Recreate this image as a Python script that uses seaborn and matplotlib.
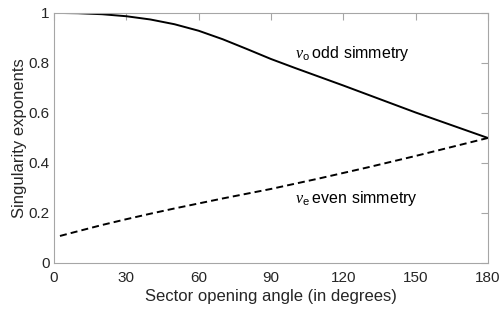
import matplotlib
matplotlib.use('Agg')
import matplotlib.pyplot as plt
import seaborn as sns

# sector opening angle (degrees) and singularity exponents
angle = [2.5, 10, 20, 30, 40, 50, 60, 70, 80, 90, 100, 110, 120, 130, 140, 150, 160, 170, 180]
nu_odd = [1.0, 0.999, 0.995, 0.987, 0.974, 0.955, 0.929, 0.895, 0.856, 0.816, 0.780, 0.745,
          0.710, 0.674, 0.638, 0.602, 0.568, 0.534, 0.5]
nu_even = [0.108, 0.127, 0.152, 0.175, 0.197, 0.218, 0.238, 0.258, 0.277, 0.296, 0.317, 0.338,
           0.360, 0.382, 0.405, 0.428, 0.452, 0.476, 0.5]

xticks = [0, 30, 60, 90, 120, 150, 180]
yticks = [0, 0.2, 0.4, 0.6, 0.8, 1]
ytick_labels = ['0', '0.2', '0.4', '0.6', '0.8', '1']

sns.set_style('white')
plt.rcParams['font.family'] = ['Liberation Sans', 'DejaVu Sans']
plt.rcParams['mathtext.fontset'] = 'custom'
plt.rcParams['mathtext.rm'] = 'Liberation Sans'
plt.rcParams['mathtext.it'] = 'Liberation Serif:italic'

text_col = '#262626'
edge_col = '#a6a6a6'

fig, ax = plt.subplots(figsize=(5.04, 3.09), dpi=100)
fig.subplots_adjust(left=0.107, right=0.968, bottom=0.149, top=0.958)

sns.lineplot(x=angle, y=nu_odd, ax=ax, color='black', linewidth=1.4)
sns.lineplot(x=angle, y=nu_even, ax=ax, color='black', linewidth=1.4,
             linestyle=(0, (3.6, 2.1)))

ax.text(100, 0.82, r'$\nu_{\mathrm{o}}\;$odd simmetry', fontsize=11.5, color='black',
        ha='left', va='baseline')
ax.text(100, 0.238, r'$\nu_{\mathrm{e}}\;$even simmetry', fontsize=11.5, color='black',
        ha='left', va='baseline')

ax.set_xlim(0, 180)
ax.set_ylim(0, 1)
ax.set_xticks(xticks)
ax.set_xticklabels([str(t) for t in xticks])
ax.set_yticks(yticks)
ax.set_yticklabels(ytick_labels)

ax.set_xlabel('Sector opening angle (in degrees)', fontsize=12, color=text_col, labelpad=3)
ax.set_ylabel('Singularity exponents', fontsize=12, color=text_col, labelpad=1)

ax.tick_params(direction='in', top=True, right=True, length=5, width=0.8,
               color=edge_col, labelcolor=text_col, labelsize=11)
ax.tick_params(axis='x', pad=6)
ax.tick_params(axis='y', pad=3)
for s in ax.spines.values():
    s.set_visible(True)
    s.set_color(edge_col)
    s.set_linewidth(0.8)

fig.savefig('out.png', dpi=100)
